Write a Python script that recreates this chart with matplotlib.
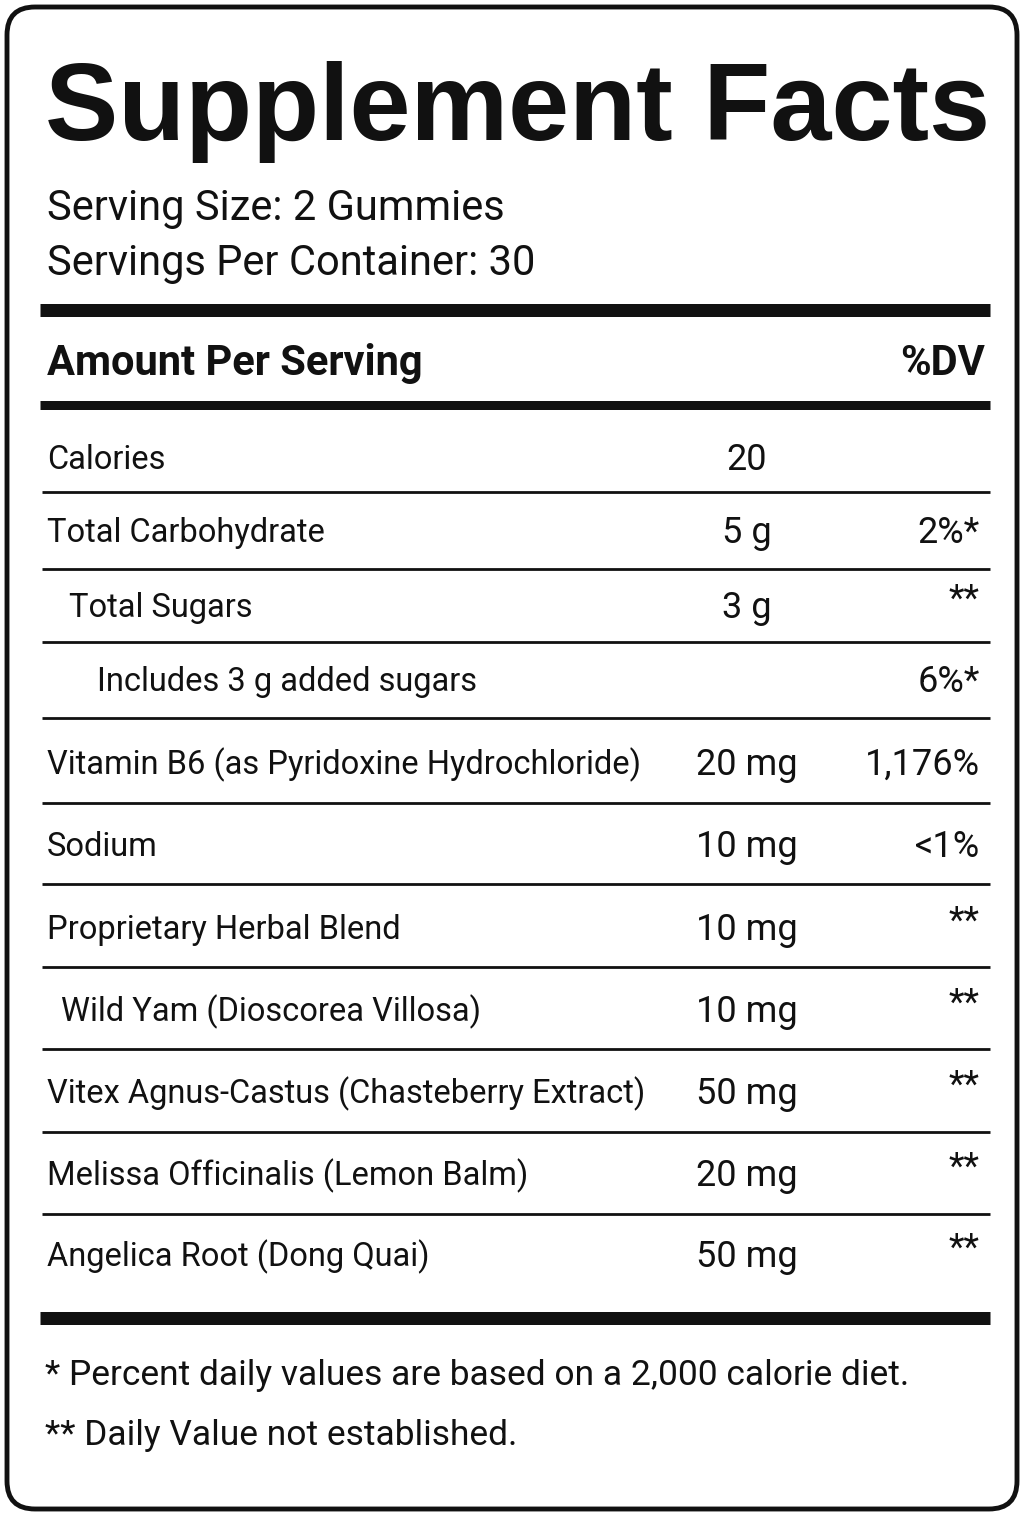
import matplotlib.pyplot as plt
from matplotlib.patches import FancyBboxPatch

plt.rcParams['font.family'] = ['Roboto', 'DejaVu Sans']

title = "Supplement Facts"
serving_lines = ["Serving Size: 2 Gummies", "Servings Per Container: 30"]
nutrients = ["Calories", "Total Carbohydrate", "Total Sugars", "Includes 3 g added sugars",
             "Vitamin B6 (as Pyridoxine Hydrochloride)", "Sodium", "Proprietary Herbal Blend",
             "Wild Yam (Dioscorea Villosa)", "Vitex Agnus-Castus (Chasteberry Extract)",
             "Melissa Officinalis (Lemon Balm)", "Angelica Root (Dong Quai)"]
amounts = ["20", "5 g", "3 g", "", "20 mg", "10 mg", "10 mg", "10 mg", "50 mg", "20 mg", "50 mg"]
dvs = ["", "2%*", "**", "6%*", "1,176%", "<1%", "**", "**", "**", "**", "**"]
indents = [0, 0, 22, 50, 0, 0, 0, 14, 0, 0, 0]
footnotes = ["* Percent daily values are based on a 2,000 calorie diet.",
             "** Daily Value not established."]

row_y = [460, 533, 608, 682, 765, 847, 930, 1012, 1094, 1176, 1257]
sep_y = [492, 569, 642, 718, 803, 884, 967, 1049, 1132, 1214]

fig = plt.figure(figsize=(10.24, 15.36), dpi=100)
ax = fig.add_axes([0, 0, 1, 1])
ax.set_xlim(0, 1024)
ax.set_ylim(1536, 0)
ax.axis('off')

ax.add_patch(FancyBboxPatch((7, 7), 1010, 1502, boxstyle="round,pad=0,rounding_size=28",
                            fill=False, lw=3.5, ec='#111'))

ax.text(45, 140, title, fontsize=79, fontweight='bold', family=['Liberation Sans', 'DejaVu Sans'],
        va='baseline', color='#111')
for i, s in enumerate(serving_lines):
    ax.text(47, 220 + 55 * i, s, fontsize=30, va='baseline', color='#111')

for y, lw in [(310, 13), (405, 9), (1318, 13)]:
    ax.plot([40, 990], [y, y], color='#111', lw=lw * 0.72, solid_capstyle='butt')

ax.text(47, 375, "Amount Per Serving", fontsize=30, fontweight='bold', va='baseline', color='#111')
ax.text(985, 375, "%DV", fontsize=30, fontweight='bold', va='baseline', ha='right', color='#111')

for y in sep_y:
    ax.plot([42, 990], [y, y], color='#111', lw=2, solid_capstyle='butt')

for y, name, amt, dv, ind in zip(row_y, nutrients, amounts, dvs, indents):
    ax.text(47 + ind, y, name, fontsize=23.5, va='center', color='#111')
    ax.text(747, y, amt, fontsize=26, va='center', ha='center', color='#111')
    ax.text(980, y - (8 if dv == "**" else 0), dv, fontsize=26, va='center', ha='right', color='#111')

for i, s in enumerate(footnotes):
    ax.text(45, 1375 + 60 * i, s, fontsize=25.5, va='center', color='#111')

fig.savefig('out.png', dpi=100)
